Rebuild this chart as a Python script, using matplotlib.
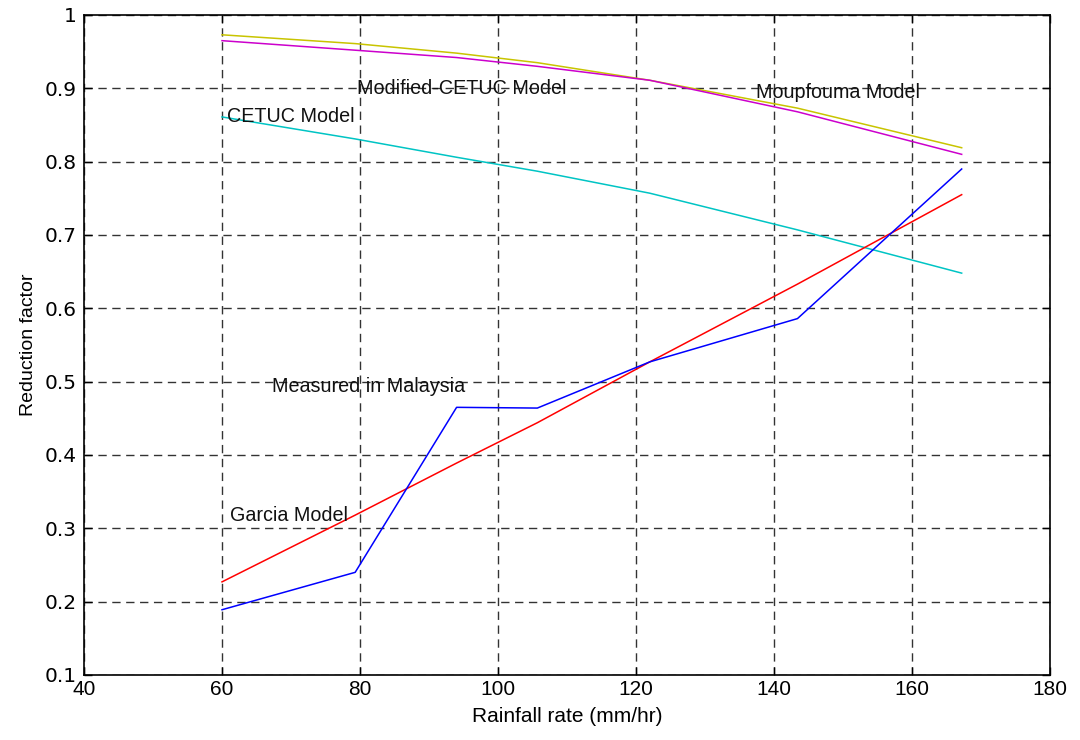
import matplotlib
matplotlib.use("Agg")
import matplotlib.pyplot as plt
from matplotlib import font_manager

# ---- data ----
rain_rate = [60, 79.3, 94.0, 105.7, 122.0, 143.4, 167.2]
measured_malaysia = [0.189, 0.240, 0.465, 0.464, 0.527, 0.586, 0.790]
garcia_model = [0.227, 0.318, 0.389, 0.444, 0.527, 0.633, 0.755]
cetuc_model = [0.861, 0.831, 0.806, 0.787, 0.757, 0.707, 0.648]
moupfouma_model = [0.973, 0.961, 0.948, 0.935, 0.911, 0.873, 0.819]
modified_cetuc_model = [0.965, 0.952, 0.942, 0.930, 0.911, 0.868, 0.810]

x_ticks = [40, 60, 80, 100, 120, 140, 160, 180]
y_ticks = [0.1, 0.2, 0.3, 0.4, 0.5, 0.6, 0.7, 0.8, 0.9, 1.0]
y_tick_labels = ["0.1", "0.2", "0.3", "0.4", "0.5", "0.6", "0.7", "0.8", "0.9", "1"]

names = {f.name for f in font_manager.fontManager.ttflist}
narrow = "Liberation Sans Narrow" if "Liberation Sans Narrow" in names else "Liberation Sans"

fig = plt.figure(figsize=(10.8, 7.4), dpi=100)
ax = fig.add_axes([84/1080, 1-675/740, (1050-84)/1080, (675-15)/740])

ax.plot(rain_rate, moupfouma_model, color="#c8c400", lw=1.1)
ax.plot(rain_rate, modified_cetuc_model, color="#cc00cc", lw=1.1)
ax.plot(rain_rate, cetuc_model, color="#00c4c4", lw=1.1)
ax.plot(rain_rate, garcia_model, color="#ff0000", lw=1.1)
ax.plot(rain_rate, measured_malaysia, color="#0000ff", lw=1.1)

ax.set_xlim(40, 180)
ax.set_ylim(0.1, 1.0)
ax.set_xticks(x_ticks)
ax.set_yticks(y_ticks)
ax.set_yticklabels(y_tick_labels)
ax.grid(True, color="#333333", linestyle=(0, (6, 4)), lw=1.0)
ax.tick_params(direction="in", top=True, right=True, length=6, width=1)
ax.tick_params(axis="y", pad=5)
for lab in ax.get_xticklabels():
    lab.set_fontfamily(narrow)
    lab.set_fontsize(15)
for lab in ax.get_yticklabels():
    lab.set_fontfamily("DejaVu Sans")
    lab.set_fontsize(14.5)
for s in ax.spines.values():
    s.set_linewidth(1.2)

ax.set_xlabel("Rainfall rate (mm/hr)", fontfamily=narrow, fontsize=15, labelpad=6)
ax.set_ylabel("Reduction factor", fontfamily=narrow, fontsize=14, labelpad=6)

tf = dict(fontfamily="Liberation Sans", fontsize=14.2, color="#111111", va="center", ha="left")
ax.text(79.6, 0.900, "Modified-CETUC Model", **tf)
ax.text(60.7, 0.861, "CETUC Model", **tf)
ax.text(137.4, 0.895, "Moupfouma Model", **tf)
ax.text(67.2, 0.494, "Measured in Malaysia", **tf)
ax.text(61.2, 0.318, "Garcia Model", **tf)

fig.savefig("out.png", dpi=100)
